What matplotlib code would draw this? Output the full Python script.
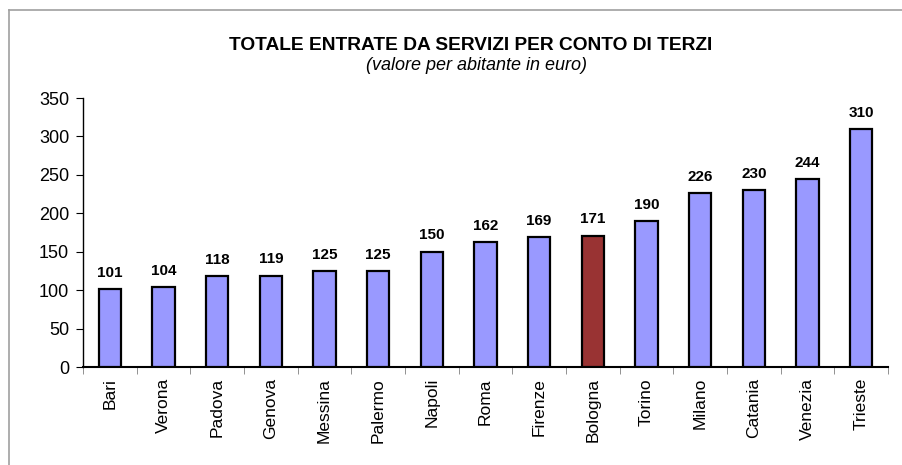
import matplotlib
matplotlib.use("Agg")
import matplotlib.pyplot as plt
from matplotlib.lines import Line2D

cities = ["Bari", "Verona", "Padova", "Genova", "Messina", "Palermo", "Napoli", "Roma",
          "Firenze", "Bologna", "Torino", "Milano", "Catania", "Venezia", "Trieste"]
values = [101, 104, 118, 119, 125, 125, 150, 162, 169, 171, 190, 226, 230, 244, 310]
highlight = "Bologna"
yticks = [0, 50, 100, 150, 200, 250, 300, 350]

plt.rcParams['font.family'] = ['Liberation Sans', 'DejaVu Sans']

fig = plt.figure(figsize=(9.03, 4.65), dpi=100)
ax = fig.add_axes([83/903, 1-367/465, 805/903, (367-98)/465])

colors = ["#993333" if c == highlight else "#9999FF" for c in cities]
x = list(range(len(cities)))
ax.bar(x, values, width=0.41, color=colors, edgecolor="black", linewidth=1.6, zorder=3)
for xi, v in zip(x, values):
    ax.text(xi, v + 12, str(v), ha="center", va="bottom", fontsize=11, fontweight="bold")

ax.set_xlim(-0.5, len(cities) - 0.5)
ax.set_ylim(0, 350)
ax.set_yticks(yticks)
ax.set_yticklabels([str(t) for t in yticks], fontsize=13)
ax.set_xticks(x)
ax.set_xticklabels(cities, rotation=90, fontsize=12.5)
ax.tick_params(axis="x", length=0, pad=8)
ax.set_xticks([i - 0.5 for i in range(len(cities) + 1)], minor=True)
ax.tick_params(axis="x", which="minor", length=5, color="#808080")
ax.tick_params(axis="y", length=5, pad=5)
ax.spines["top"].set_visible(False)
ax.spines["right"].set_visible(False)
ax.spines["left"].set_linewidth(1.0)
ax.spines["bottom"].set_linewidth(1.5)

fig.text(471/903, 1-45/465, "TOTALE ENTRATE DA SERVIZI PER CONTO DI TERZI",
         ha="center", va="center", fontsize=13.8, fontweight="bold")
fig.text(477/903, 1-65/465, "(valore per abitante in euro)",
         ha="center", va="center", fontsize=13, style="italic")

# frame lines (top & left)
fig.add_artist(Line2D([9/903, 1], [1-10/465, 1-10/465], transform=fig.transFigure,
                      color="#a0a0a0", linewidth=1.2))
fig.add_artist(Line2D([9/903, 9/903], [0, 1-10/465], transform=fig.transFigure,
                      color="#a0a0a0", linewidth=1.2))

fig.savefig("out.png", dpi=100)
